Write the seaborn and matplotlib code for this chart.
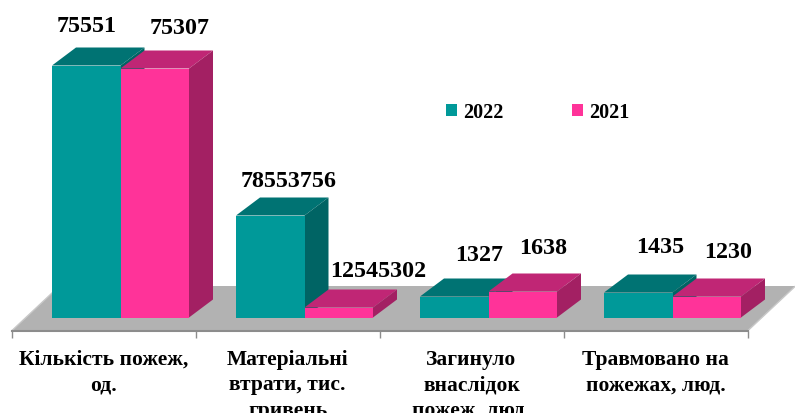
import matplotlib
matplotlib.use("Agg")
import matplotlib.pyplot as plt
import pandas as pd
import seaborn as sns
from matplotlib.patches import Polygon, Patch

# --- data ---
categories = ["Кількість пожеж,\nод.", "Матеріальні\nвтрати, тис.\nгривень",
              "Загинуло\nвнаслідок\nпожеж, люд.", "Травмовано на\nпожежах, люд."]
values_2022 = [75551, 78553756, 1327, 1435]
values_2021 = [75307, 12545302, 1638, 1230]
heights_2022 = [252, 102, 21, 25]
heights_2021 = [249, 10, 26, 21]
years = ["2022", "2021"]

# --- styling / layout ---
FRONT = {"2022": "#009999", "2021": "#FF3399"}
TOP = {"2022": "#007373", "2021": "#C02675"}
SIDE = {"2022": "#006464", "2021": "#A32063"}
FLOOR = "#B2B2B2"
W, H, BASE_PX, STEP_PX, FIRST_PX = 795, 414, 318.5, 184.0, 120.5
DX, DY = 24 / STEP_PX, 18          # bar depth
FDX, FDY = 48 / STEP_PX, 45        # floor depth
AXIS_Y = -13.5
LABEL_SHIFT = -17 / STEP_PX        # axis categories sit left of the bars
# label offsets from the front-top centre of each bar (px right, px above)
label_off_2022 = [(0, 40), (18, 35), (25, 42), (22, 46)]
label_off_2021 = [(24.5, 41), (39, 37), (20, 44), (21.5, 45)]

sns.set_theme(style="white")
plt.rcParams["font.family"] = ["Liberation Serif", "DejaVu Sans"]
plt.rcParams["font.weight"] = "bold"

df = pd.DataFrame({
    "category": categories * 2,
    "height": heights_2022 + heights_2021,
    "year": [years[0]] * 4 + [years[1]] * 4,
})

fig = plt.figure(figsize=(W / 100, H / 100), dpi=100)
ax = fig.add_axes([0, 0, 1, 1])
ax.patch.set_alpha(0)
sns.barplot(data=df, x="category", y="height", hue="year", hue_order=years,
            palette=FRONT, width=137 / STEP_PX, gap=0, saturation=1,
            linewidth=0, legend=False, ax=ax)

ax.set_xlim(-FIRST_PX / STEP_PX, (W - FIRST_PX) / STEP_PX)
ax.set_ylim(BASE_PX - H, BASE_PX)

# floor
n = len(categories)
fx0 = LABEL_SHIFT - 0.5
fx1 = LABEL_SHIFT + n - 0.5
ax.add_patch(Polygon([(fx0, AXIS_Y), (fx1, AXIS_Y), (fx1 + FDX, AXIS_Y + FDY), (fx0 + FDX, AXIS_Y + FDY)],
                     closed=True, fc=FLOOR, ec="none", zorder=0))
ax.plot([fx0, fx0 + FDX], [AXIS_Y, AXIS_Y + FDY], color="#C8C8C8", lw=1, zorder=0.5)
ax.plot([fx1, fx1 + FDX], [AXIS_Y, AXIS_Y + FDY], color="#C8C8C8", lw=1, zorder=0.5)

# 3D faces and value labels come from the bars seaborn drew
for idx, (cont, year, vals, offs) in enumerate(zip(ax.containers, years,
                                                   [values_2022, values_2021],
                                                   [label_off_2022, label_off_2021])):
    z = 1 + idx
    for bar, val, (ox, oy) in zip(cont, vals, offs):
        x0, x1, h = bar.get_x(), bar.get_x() + bar.get_width(), bar.get_height()
        bar.set_zorder(z + 0.5)
        ax.add_patch(Polygon([(x0, h), (x1, h), (x1 + DX, h + DY), (x0 + DX, h + DY)],
                             closed=True, fc=TOP[year], ec="none", zorder=z))
        ax.add_patch(Polygon([(x1, 0), (x1 + DX, DY), (x1 + DX, h + DY), (x1, h)],
                             closed=True, fc=SIDE[year], ec="none", zorder=z))
        ax.text((x0 + x1) / 2 + ox / STEP_PX, h + oy, str(val), ha="center", va="center",
                fontsize=17.3, fontweight="bold", color="black", zorder=5)

# axis
ax.set_ylabel("")
ax.set_xlabel("")
ax.yaxis.set_visible(False)
for s in ("top", "left", "right"):
    ax.spines[s].set_visible(False)
sp = ax.spines["bottom"]
sp.set_position(("data", AXIS_Y))
sp.set_bounds(fx0, fx1)
sp.set_color("#8C8C8C")
sp.set_linewidth(1.5)
sp.set_zorder(0.7)
ax.set_xticks([LABEL_SHIFT + i for i in range(n)], categories)
ax.set_xticks([fx0 + i for i in range(n + 1)], minor=True)
ax.tick_params(axis="x", which="major", length=0, pad=13, labelsize=15.5, labelcolor="black")
ax.tick_params(axis="x", which="minor", length=5, width=1, color="#8C8C8C", bottom=True)
for t in ax.get_xticklabels():
    t.set_fontweight("bold")
    t.set_linespacing(1.36)
    t.set_va("top")
    t.set_clip_on(False)

# legend
handles = [Patch(fc=FRONT[y], ec="none", label=y) for y in years]
ax.legend(handles=handles, ncol=2, frameon=False, loc="center",
          bbox_to_anchor=(538 / W, 1 - 113 / H), prop={"size": 14.5, "weight": "bold"},
          handlelength=0.55, handleheight=0.55, handletextpad=0.3, columnspacing=3.4,
          labelcolor="black", borderpad=0)

fig.savefig("out.png", dpi=100)
